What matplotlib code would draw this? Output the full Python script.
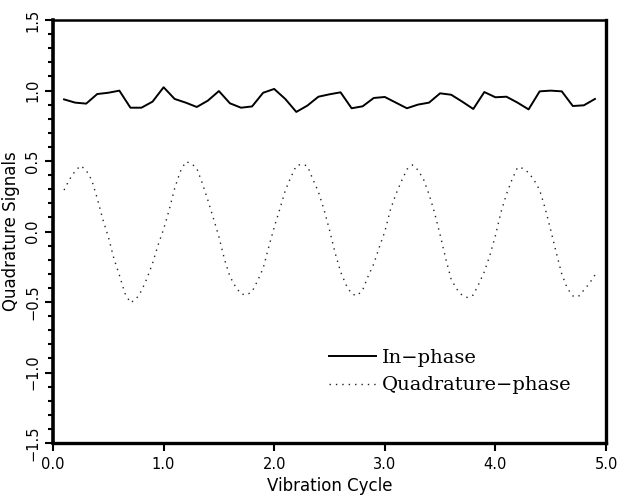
import numpy as np
import matplotlib
matplotlib.use('Agg')
import matplotlib.pyplot as plt
from matplotlib.ticker import MultipleLocator

# in-phase signal, sampled every 0.1 cycle
x_in = np.round(np.arange(0.1, 4.95, 0.1), 2)
in_phase = [0.937, 0.914, 0.907, 0.975, 0.984, 0.999, 0.878, 0.878, 0.921, 1.023,
            0.940, 0.914, 0.883, 0.928, 0.996, 0.909, 0.878, 0.887, 0.984, 1.011,
            0.940, 0.848, 0.893, 0.956, 0.973, 0.987, 0.874, 0.888, 0.947, 0.954,
            0.914, 0.874, 0.900, 0.914, 0.980, 0.970, 0.921, 0.869, 0.989, 0.952,
            0.956, 0.914, 0.866, 0.994, 0.999, 0.994, 0.890, 0.895, 0.940]

# quadrature-phase signal, sampled every 0.05 cycle
x_quad = np.round(np.arange(0.1, 4.925, 0.05), 3)
quad_phase = [0.294, 0.370, 0.429, 0.467, 0.434, 0.365, 0.235, 0.087, -0.037, -0.190,
              -0.309, -0.438, -0.505, -0.481, -0.420, -0.332, -0.226, -0.096, 0.016, 0.152,
              0.306, 0.424, 0.495, 0.483, 0.448, 0.342, 0.223, 0.094, -0.037, -0.196,
              -0.320, -0.391, -0.443, -0.450, -0.427, -0.349, -0.261, -0.112, 0.030, 0.157,
              0.290, 0.384, 0.467, 0.477, 0.465, 0.370, 0.280, 0.157, 0.011, -0.150,
              -0.285, -0.379, -0.443, -0.455, -0.415, -0.316, -0.230, -0.112, -0.001, 0.152,
              0.264, 0.356, 0.441, 0.472, 0.436, 0.370, 0.264, 0.133, -0.023, -0.190,
              -0.339, -0.408, -0.453, -0.469, -0.450, -0.372, -0.285, -0.169, -0.030, 0.136,
              0.264, 0.368, 0.455, 0.448, 0.417, 0.365, 0.294, 0.164, 0.011, -0.150,
              -0.301, -0.403, -0.457, -0.462, -0.415, -0.368, -0.309]

x_ticks = [0.0, 1.0, 2.0, 3.0, 4.0, 5.0]
y_ticks = [-1.5, -1.0, -0.5, 0.0, 0.5, 1.0, 1.5]

fig = plt.figure(figsize=(6.2, 5.01), dpi=100)
ax = fig.add_axes([53/620, 1 - 443/501, 553/620, 423/501])

ax.plot(x_in, in_phase, color='black', lw=1.4, label='In\u2212phase')
ax.plot(x_quad, quad_phase, color='#222222', lw=1.0, linestyle=(0, (1, 3.6)),
        label='Quadrature\u2212phase')

ax.set_xlim(0, 5)
ax.set_ylim(-1.5, 1.5)
ax.set_xticks(x_ticks)
ax.set_xticklabels(['%.1f' % v for v in x_ticks])
ax.set_yticks(y_ticks)
ax.set_yticklabels([('%.1f' % v).replace('-', '\u2212') for v in y_ticks],
                   rotation=90, va='center')
ax.yaxis.set_minor_locator(MultipleLocator(0.1))

ax.tick_params(axis='both', which='major', direction='out', length=6, width=1.5,
               labelsize=10.5, colors='black')
ax.tick_params(axis='y', which='minor', direction='out', length=3.5, width=1.5)
ax.tick_params(axis='x', pad=4)
ax.tick_params(axis='y', pad=3)

ax.spines['left'].set_linewidth(2.6)
ax.spines['bottom'].set_linewidth(2.4)
ax.spines['top'].set_linewidth(1.8)
ax.spines['right'].set_linewidth(2.4)

ax.set_xlabel('Vibration Cycle', fontsize=12, labelpad=4)
ax.set_ylabel('Quadrature Signals', fontsize=12, labelpad=4)

ax.legend(loc='center left', bbox_to_anchor=(0.499, 0.169), frameon=False,
          prop={'family': 'DejaVu Serif', 'size': 14}, handlelength=2.4,
          handletextpad=0.3, labelspacing=0.5, borderpad=0, borderaxespad=0)

fig.savefig('out.png', dpi=100)
